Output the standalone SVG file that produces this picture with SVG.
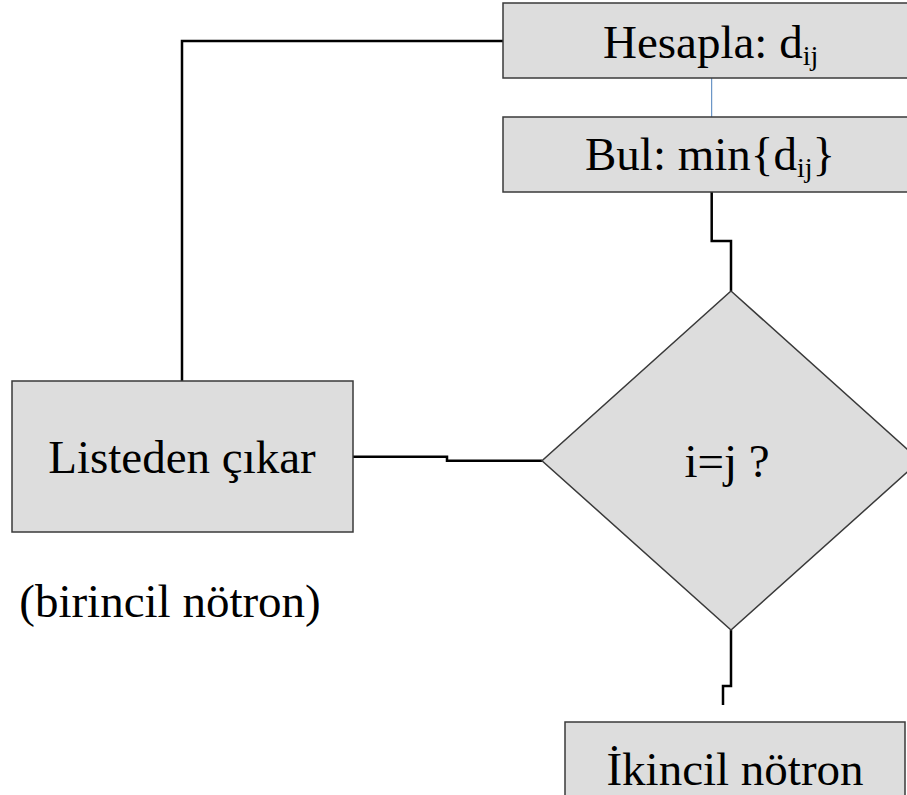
<svg xmlns="http://www.w3.org/2000/svg" width="907" height="795" viewBox="0 0 907 795">
<style>
.box{fill:#dddddd;stroke:#3a3a3a;stroke-width:1.5}
.txt{font-family:"Liberation Serif","Times New Roman",serif;font-size:47px;fill:#000}
.sub{font-size:28px}
.conn{fill:none;stroke:#000;stroke-width:2.5}
.thin{fill:none;stroke:#4a7ebb;stroke-width:1}
</style>
<rect width="907" height="795" fill="#fff"/>
<g id="connectors">
<polyline class="conn" points="182,381 182,41 503,41"/>
<line class="thin" x1="711.7" y1="78" x2="711.7" y2="117"/>
<polyline class="conn" points="711.7,192 711.7,241 731,241 731,291"/>
<polyline class="conn" points="353,456.7 447,456.7 447,460.7 542,460.7"/>
<polyline class="conn" points="731,630 731,686 723,686 723,705"/>
</g>
<g id="hesapla">
<rect class="box" x="503" y="3" width="420" height="75"/>
<text class="txt" x="603" y="58">Hesapla: d<tspan class="sub" dy="7">ij</tspan></text>
</g>
<g id="bul">
<rect class="box" x="503" y="117" width="420" height="75"/>
<text class="txt" x="585" y="170">Bul: min{d<tspan class="sub" dy="7">ij</tspan><tspan dy="-7">}</tspan></text>
</g>
<g id="karar">
<polygon class="box" points="731,291 920,460.7 731,630 542,460.7"/>
<text class="txt" x="727" y="477" text-anchor="middle">i=j ?</text>
</g>
<g id="listeden">
<rect class="box" x="12" y="381" width="341" height="151"/>
<text class="txt" x="182" y="473" text-anchor="middle">Listeden çıkar</text>
</g>
<g id="birincil">
<text class="txt" x="170" y="617" text-anchor="middle">(birincil nötron)</text>
</g>
<g id="ikincil">
<rect class="box" x="565" y="722" width="340" height="90"/>
<text class="txt" x="735" y="785" text-anchor="middle">İkincil nötron</text>
</g>
</svg>
